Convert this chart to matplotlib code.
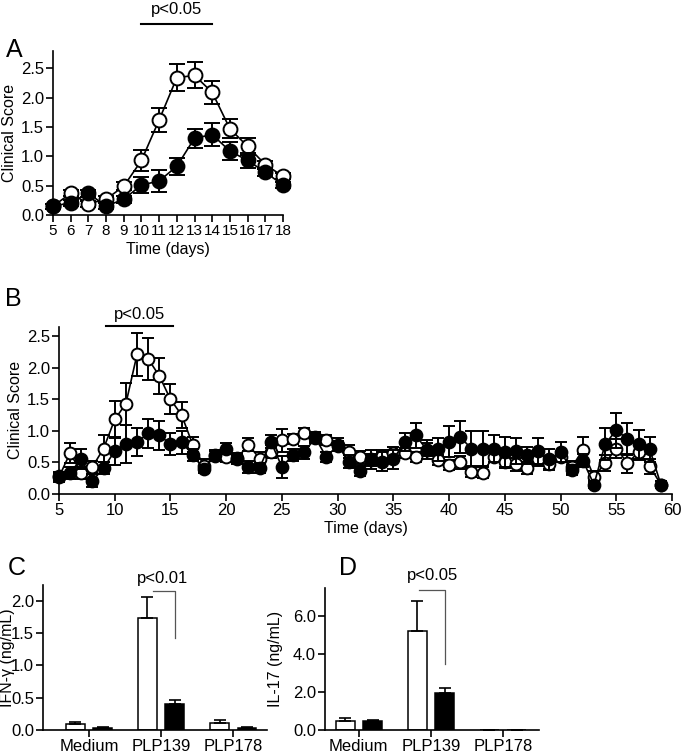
import numpy as np
import matplotlib
matplotlib.use("Agg")
import matplotlib.pyplot as plt

plt.rcParams['font.family'] = ['Liberation Sans', 'DejaVu Sans']
plt.rcParams['font.size'] = 10

# panel A
days_a = list(range(5, 19))
open_a = [0.15, 0.37, 0.19, 0.27, 0.49, 0.93, 1.62, 2.34, 2.38, 2.09, 1.47, 1.17, 0.86, 0.66]
open_a_err = [0.04, 0.05, 0.05, 0.05, 0.07, 0.18, 0.20, 0.23, 0.22, 0.20, 0.16, 0.14, 0.06, 0.05]
fill_a = [0.15, 0.21, 0.37, 0.15, 0.27, 0.51, 0.58, 0.83, 1.31, 1.37, 1.09, 0.93, 0.73, 0.51]
fill_a_err = [0.04, 0.05, 0.06, 0.05, 0.06, 0.14, 0.19, 0.15, 0.16, 0.19, 0.15, 0.13, 0.06, 0.05]

# panel B
days_b = list(range(5, 60))
open_b = [0.27, 0.65, 0.33, 0.43, 0.72, 1.18, 1.43, 2.21, 2.14, 1.87, 1.50, 1.25, 0.78, 0.45,
          0.60, 0.59, 0.57, 0.78, 0.56, 0.67, 0.85, 0.87, 0.96, 0.90, 0.86, 0.76, 0.67, 0.58,
          0.54, 0.60, 0.65, 0.65, 0.58, 0.70, 0.54, 0.46, 0.50, 0.35, 0.34, 0.59, 0.51, 0.47,
          0.41, 0.55, 0.47, 0.59, 0.42, 0.70, 0.27, 0.49, 0.72, 0.49, 0.66, 0.44, 0.15]
open_b_err = [0.08, 0.16, 0.10, 0.10, 0.21, 0.30, 0.33, 0.34, 0.33, 0.28, 0.24, 0.20, 0.12, 0.10,
              0.08, 0.08, 0.08, 0.10, 0.10, 0.10, 0.18, 0.08, 0.08, 0.08, 0.08, 0.08, 0.10, 0.10,
              0.10, 0.10, 0.10, 0.08, 0.08, 0.10, 0.08, 0.08, 0.10, 0.08, 0.08, 0.08, 0.10, 0.10,
              0.10, 0.10, 0.08, 0.08, 0.10, 0.20, 0.10, 0.12, 0.15, 0.15, 0.12, 0.12, 0.05]
fill_b = [0.28, 0.33, 0.56, 0.21, 0.41, 0.68, 0.79, 0.82, 0.96, 0.93, 0.79, 0.82, 0.62, 0.39,
          0.62, 0.72, 0.55, 0.43, 0.41, 0.83, 0.43, 0.62, 0.66, 0.89, 0.58, 0.78, 0.51, 0.37,
          0.55, 0.51, 0.55, 0.82, 0.93, 0.70, 0.71, 0.83, 0.90, 0.72, 0.72, 0.72, 0.66, 0.68,
          0.61, 0.68, 0.55, 0.67, 0.38, 0.53, 0.15, 0.79, 1.01, 0.87, 0.79, 0.71, 0.15]
fill_b_err = [0.06, 0.10, 0.16, 0.10, 0.10, 0.22, 0.30, 0.22, 0.23, 0.23, 0.17, 0.18, 0.10, 0.05,
              0.08, 0.08, 0.08, 0.10, 0.08, 0.10, 0.17, 0.10, 0.10, 0.08, 0.08, 0.10, 0.10, 0.08,
              0.15, 0.15, 0.15, 0.14, 0.20, 0.15, 0.18, 0.25, 0.25, 0.28, 0.28, 0.22, 0.24, 0.20,
              0.14, 0.20, 0.17, 0.16, 0.08, 0.10, 0.05, 0.25, 0.28, 0.25, 0.23, 0.20, 0.05]

# panels C and D
groups = ['Medium', 'PLP139', 'PLP178']
ifn_open = [0.09, 1.73, 0.11]
ifn_open_err = [0.03, 0.32, 0.05]
ifn_fill = [0.03, 0.40, 0.03]
ifn_fill_err = [0.01, 0.06, 0.01]
il17_open = [0.48, 5.23, 0.0]
il17_open_err = [0.14, 1.6, 0.0]
il17_fill = [0.45, 1.98, 0.0]
il17_fill_err = [0.1, 0.23, 0.0]

TICK = 12
LAB = 11.5


def style(ax):
    for s in ['top', 'right']:
        ax.spines[s].set_visible(False)
    for s in ['left', 'bottom']:
        ax.spines[s].set_linewidth(1.2)
    ax.tick_params(direction='out', length=5, width=1.2, labelsize=TICK, pad=1.5)


def curves(ax, x, o, oe, f, fe, ms, cap):
    ax.errorbar(x, o, yerr=oe, color='black', lw=1.2, marker='o', ms=ms, mfc='white',
                mec='black', mew=1.4, capsize=cap, capthick=1.4, elinewidth=1.4, clip_on=False, zorder=3)
    ax.errorbar(x, f, yerr=fe, color='black', lw=1.2, marker='o', ms=ms, mfc='black',
                mec='black', mew=1.4, capsize=cap, capthick=1.4, elinewidth=1.4, clip_on=False, zorder=4)


fig = plt.figure(figsize=(6.83, 7.56), dpi=100)

# A
ax = fig.add_axes([0.0776, 0.7156, 0.3367, 0.2173])
curves(ax, days_a, open_a, open_a_err, fill_a, fill_a_err, 10, 5.5)
ax.set_xlim(5, 18)
ax.set_ylim(0, 2.8)
ax.set_xticks(days_a)
ax.set_yticks([0.0, 0.5, 1.0, 1.5, 2.0, 2.5])
ax.set_yticklabels(['0.0', '0.5', '1.0', '1.5', '2.0', '2.5'])
ax.set_xlabel('Time (days)', fontsize=LAB, labelpad=3)
ax.set_ylabel('Clinical Score', fontsize=LAB, labelpad=3)
style(ax)
ax.tick_params(axis='x', labelsize=11)
ax.plot([10, 14], [3.25, 3.25], color='black', lw=1.5, clip_on=False)
ax.text(12, 3.38, 'p<0.05', ha='center', va='bottom', fontsize=12)
fig.text(0.008, 0.925, 'A', fontsize=18)

# B
ax = fig.add_axes([0.0864, 0.3466, 0.8975, 0.2213])
curves(ax, days_b, open_b, open_b_err, fill_b, fill_b_err, 8.5, 4.3)
ax.set_xlim(5, 60)
ax.set_ylim(0, 2.65)
ax.set_xticks(range(5, 61, 5))
ax.set_yticks([0.0, 0.5, 1.0, 1.5, 2.0, 2.5])
ax.set_yticklabels(['0.0', '0.5', '1.0', '1.5', '2.0', '2.5'])
ax.set_xlabel('Time (days)', fontsize=LAB, labelpad=2)
ax.set_ylabel('Clinical Score', fontsize=LAB, labelpad=3)
style(ax)
ax.plot([9.2, 15.2], [2.66, 2.66], color='black', lw=1.5, clip_on=False)
ax.text(12.2, 2.72, 'p<0.05', ha='center', va='bottom', fontsize=12)
fig.text(0.008, 0.595, 'B', fontsize=18)

# C and D
x = np.arange(len(groups))
w = 0.26
off = 0.19


def bars(ax, o, oe, f, fe):
    ax.bar(x - off, o, w, color='white', edgecolor='black', lw=1.1, zorder=2)
    ax.bar(x + off, f, w, color='black', edgecolor='black', lw=1.1, zorder=2)
    ax.errorbar(x - off, o, yerr=[np.zeros(3), oe], fmt='none', ecolor='black',
                elinewidth=1.2, capsize=4, capthick=1.2, zorder=3)
    ax.errorbar(x + off, f, yerr=[np.zeros(3), fe], fmt='none', ecolor='black',
                elinewidth=1.2, capsize=4, capthick=1.2, zorder=3)
    ax.set_xticks(x)
    ax.set_xticklabels(groups)
    style(ax)


ax = fig.add_axes([0.063, 0.0344, 0.328, 0.1918])
bars(ax, ifn_open, ifn_open_err, ifn_fill, ifn_fill_err)
ax.set_xlim(-0.64, 2.47)
ax.set_ylim(0, 2.24)
ax.set_yticks([0.0, 0.5, 1.0, 1.5, 2.0])
ax.set_yticklabels(['0.0', '0.5', '1.0', '1.5', '2.0'])
ax.set_ylabel('IFN-\u03b3 (ng/mL)', fontsize=LAB)
ax.yaxis.set_label_coords(-0.125, 0.5)
ax.plot([1 - 0.12, 1 + off, 1 + off], [2.15, 2.15, 1.42], color='#555555', lw=0.9, clip_on=False)
ax.text(1.02, 2.22, 'p<0.01', ha='center', va='bottom', fontsize=12)
fig.text(0.012, 0.24, 'C', fontsize=18)

ax = fig.add_axes([0.4758, 0.0344, 0.3133, 0.1878])
bars(ax, il17_open, il17_open_err, il17_fill, il17_fill_err)
ax.set_xlim(-0.47, 2.5)
ax.set_ylim(0, 7.5)
ax.set_yticks([0.0, 2.0, 4.0, 6.0])
ax.set_yticklabels(['0.0', '2.0', '4.0', '6.0'])
ax.set_ylabel('IL-17 (ng/mL)', fontsize=LAB)
ax.yaxis.set_label_coords(-0.196, 0.5)
ax.plot([1 - 0.17, 1 + off, 1 + off], [7.4, 7.4, 3.46], color='#555555', lw=0.9, clip_on=False)
ax.text(1.02, 7.75, 'p<0.05', ha='center', va='bottom', fontsize=12)
fig.text(0.497, 0.24, 'D', fontsize=18)

fig.savefig('out.png', dpi=100)
